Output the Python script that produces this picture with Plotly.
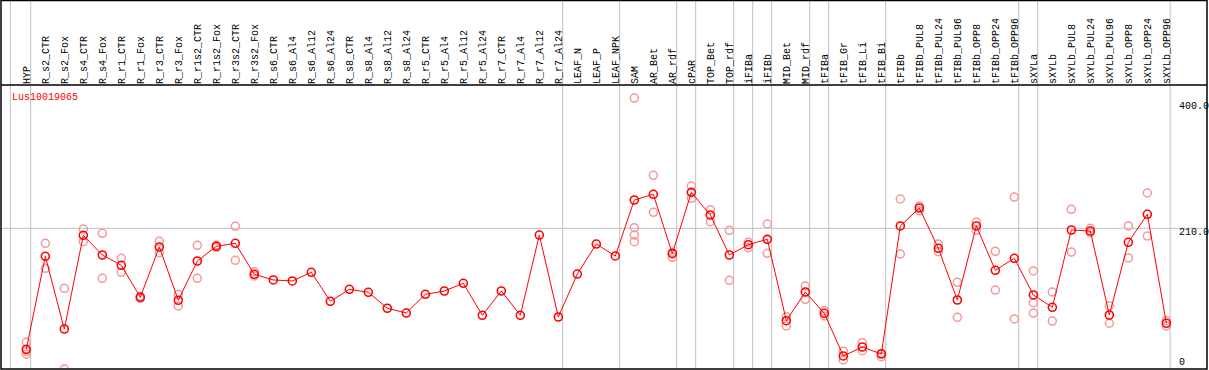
import plotly.graph_objects as go

categories = ["HYP", "R_s2_CTR", "R_s2_Fox", "R_s4_CTR", "R_s4_Fox", "R_r1_CTR", "R_r1_Fox",
              "R_r3_CTR", "R_r3_Fox", "R_r1s2_CTR", "R_r1s2_Fox", "R_r3s2_CTR", "R_r3s2_Fox",
              "R_s6_CTR", "R_s6_Al4", "R_s6_Al12", "R_s6_Al24", "R_s8_CTR", "R_s8_Al4",
              "R_s8_Al12", "R_s8_Al24", "R_r5_CTR", "R_r5_Al4", "R_r5_Al12", "R_r5_Al24",
              "R_r7_CTR", "R_r7_Al4", "R_r7_Al12", "R_r7_Al24", "LEAF_N", "LEAF_P", "LEAF_NPK",
              "SAM", "AR_Bet", "AR_rdf", "cPAR", "TOP_Bet", "TOP_rdf", "iFIBa", "iFIBb",
              "MID_Bet", "MID_rdf", "tFIBa", "tFIB_Gr", "tFIB_Li", "tFIB_Bi", "tFIBb",
              "tFIBb_PUL8", "tFIBb_PUL24", "tFIBb_PUL96", "tFIBb_OPP8", "tFIBb_OPP24",
              "tFIBb_OPP96", "sXYLa", "sXYLb", "sXYLb_PUL8", "sXYLb_PUL24", "sXYLb_PUL96",
              "sXYLb_OPP8", "sXYLb_OPP24", "sXYLb_OPP96"]

mean_values = [26.9, 167.6, 57.6, 199.4, 169.6, 154.0, 105.6, 181.7, 101.1, 160.5, 182.8,
               187.3, 140.4, 131.8, 130.3, 143.4, 99.5, 117.7, 113.2, 89.0, 81.8, 110.1,
               115.1, 126.8, 78.4, 115.1, 78.4, 199.8, 75.8, 140.8, 186.2, 168.1, 252.8,
               261.4, 171.6, 264.4, 230.1, 169.6, 185.2, 193.3, 70.2, 113.6, 81.4, 16.8,
               30.4, 19.8, 213.5, 240.7, 179.7, 101.5, 213.5, 146.4, 164.6, 109.1, 90.5,
               207.4, 205.9, 78.8, 188.8, 231.2, 66.3]

replicates = [[37.5, 19.4, 23.8], [187.3, 149.5], [119.2, -2.9], [208.9, 189.7],
              [202.4, 134.3], [164.6, 143.4], [107.1, 104.1], [190.3, 173.1],
              [110.1, 92.4], [184.3, 134.3], [184.7, 180.9], [213.0, 161.6],
              [144.3, 137.8], [], [], [], [], [], [], [], [], [], [], [], [], [], [], [], [],
              [], [], [], [407.1, 210.9, 199.8, 189.7], [290.2, 234.2], [173.7, 166.1],
              [274.0, 255.4], [238.1, 220.0], [207.0, 131.3], [188.8, 180.6],
              [216.5, 172.2], [76.2, 62.2], [122.7, 102.6], [85.3, 77.3], [23.9, 10.7],
              [36.9, 24.8], [20.9, 15.7], [254.3, 171.1], [243.7, 236.6], [186.2, 174.6],
              [128.3, 75.3], [219.5, 207.0], [175.2, 116.6], [257.3, 72.8],
              [145.4, 97.4, 81.8], [113.6, 69.7], [238.7, 174.1], [210.0, 203.3],
              [92.4, 66.3], [213.5, 165.1], [263.4, 198.3], [70.2, 62.2]]

group_lines = [-0.84, 0.23, 28.23, 31.23, 34.23, 35.23, 37.23, 38.23, 39.23, 41.23, 42.23,
               45.23, 52.23, 53.23, 60.2]

axis_ticks = [400, 210, 0]
axis_tick_text = ["400.0", "210.0", "0"]
gene_name = "Lus10019065"

x_idx = list(range(len(categories)))
rep_x, rep_y = [], []
for i, reps in enumerate(replicates):
    for v in reps:
        rep_x.append(i)
        rep_y.append(v)

MONO = "Liberation Mono"
X_RANGE = [-1.332, 62.14]
Y_RANGE = [-2.9, 426.8]

fig = go.Figure()
fig.add_trace(go.Scatter(x=rep_x, y=rep_y, mode="markers",
                         marker=dict(symbol="circle-open", size=8, color="#f09a9a",
                                     line=dict(width=1.5, color="#f09a9a")),
                         hoverinfo="skip", showlegend=False))
fig.add_trace(go.Scatter(x=x_idx, y=mean_values, mode="lines+markers",
                         line=dict(color="#ff0000", width=1),
                         marker=dict(symbol="circle-open", size=8, color="#ff0000",
                                     line=dict(width=1.6, color="#ff0000")),
                         showlegend=False))

shapes = []
top_y = 1 + 84.5 / 284
for gx in group_lines:
    px = (gx - X_RANGE[0]) / (X_RANGE[1] - X_RANGE[0])
    shapes.append(dict(type="line", xref="paper", yref="paper", x0=px, x1=px, y0=0, y1=top_y,
                       line=dict(color="#c0c0c0", width=1), layer="below"))
shapes.append(dict(type="line", xref="paper", yref="y", x0=0, x1=1, y0=210, y1=210,
                   line=dict(color="#c0c0c0", width=1), layer="below"))
shapes.append(dict(type="rect", xref="paper", yref="paper", x0=0, x1=1, y0=0, y1=top_y,
                   line=dict(color="black", width=1.5)))
shapes.append(dict(type="line", xref="paper", yref="paper", x0=0, x1=1, y0=1, y1=1,
                   line=dict(color="black", width=1.5)))

annotations = [dict(text=gene_name, xref="paper", yref="paper", x=(10 - 1) / 1206,
                    y=(369 - 97) / 284, xanchor="left", yanchor="middle", showarrow=False,
                    font=dict(family=MONO, size=10, color="#ff0000"))]
shifts = [-4, -4, 5]
for v, t, s in zip(axis_ticks, axis_tick_text, shifts):
    annotations.append(dict(text=t, xref="paper", yref="y", x=(1177 - 1) / 1206, y=v,
                            xanchor="left", yanchor="middle", yshift=s, showarrow=False,
                            font=dict(family=MONO, size=10, color="black")))

fig.update_layout(
    width=1209, height=370,
    margin=dict(l=1, r=2, t=85, b=1),
    paper_bgcolor="white", plot_bgcolor="white",
    xaxis=dict(range=X_RANGE, side="top", tickmode="array", tickvals=x_idx,
               ticktext=categories, tickangle=-90, ticks="", showgrid=False,
               zeroline=False, showline=False, automargin=False,
               tickfont=dict(family=MONO, size=10, color="black")),
    yaxis=dict(range=Y_RANGE, showticklabels=False, showgrid=False, zeroline=False,
               ticks="", showline=False, automargin=False),
    shapes=shapes, annotations=annotations,
)

fig.write_html("out.html", config={"displayModeBar": False},
               post_script="document.body.style.margin='0';document.body.style.overflow='hidden';")
